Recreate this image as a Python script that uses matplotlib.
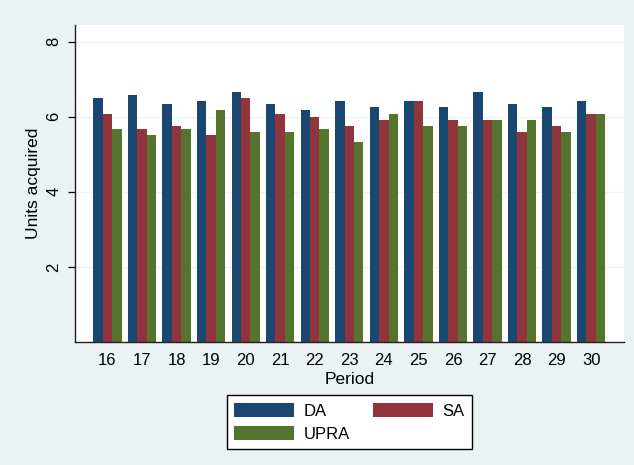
import numpy as np
import matplotlib.pyplot as plt
from matplotlib.patches import Patch

plt.rcParams['font.family'] = ['Liberation Sans', 'DejaVu Sans']

periods = [16, 17, 18, 19, 20, 21, 22, 23, 24, 25, 26, 27, 28, 29, 30]
da = [6.500, 6.583, 6.333, 6.417, 6.667, 6.333, 6.167, 6.417, 6.250, 6.417, 6.250, 6.667, 6.333, 6.250, 6.417]
sa = [6.083, 5.667, 5.750, 5.500, 6.500, 6.083, 6.000, 5.750, 5.917, 6.417, 5.917, 5.917, 5.583, 5.750, 6.083]
upra = [5.667, 5.500, 5.667, 6.167, 5.583, 5.583, 5.667, 5.333, 6.083, 5.750, 5.750, 5.917, 5.917, 5.583, 6.083]
series = [('DA', da, '#1a476f'), ('SA', sa, '#90353b'), ('UPRA', upra, '#55752f')]

bg = '#eaf2f3'
fig = plt.figure(figsize=(6.34, 4.65), dpi=100, facecolor=bg)
ax = fig.add_axes([0.1188, 0.2645, 0.9842 - 0.1188, 0.9469 - 0.2645])
ax.set_facecolor('white')

x = np.arange(len(periods))
w = 0.273
handles = {}
for k, (name, vals, col) in enumerate(series):
    ax.bar(x + (k - 1) * w, vals, width=w, color=col, linewidth=0, zorder=2)
    handles[name] = Patch(facecolor=col, edgecolor='none')

ax.set_xlim(-0.93, len(periods) - 1 + 0.95)
ax.set_ylim(0, 8.45)
ax.set_yticks([2, 4, 6, 8])
ax.set_yticklabels(['2', '4', '6', '8'], rotation=90, va='center')
ax.set_xticks(x)
ax.set_xticklabels([str(p) for p in periods])
ax.grid(axis='y', color='#eef4f5', linewidth=1.0, zorder=0)
ax.tick_params(axis='y', length=5, width=0.9, pad=5, labelsize=12)
ax.tick_params(axis='x', length=0, pad=8, labelsize=12)
for s in ['top', 'right']:
    ax.spines[s].set_visible(False)
for s in ['left', 'bottom']:
    ax.spines[s].set_linewidth(1.0)
    ax.spines[s].set_color('#222222')

ax.set_ylabel('Units acquired', fontsize=12.5, labelpad=4)
ax.set_xlabel('Period', fontsize=12.5, labelpad=3)

leg = fig.legend([handles['DA'], handles['UPRA'], handles['SA']], ['DA', 'UPRA', 'SA'],
                 ncol=2, loc='center', bbox_to_anchor=(0.551, 0.0918),
                 fontsize=12, frameon=True, fancybox=False, framealpha=1,
                 edgecolor='black', facecolor='white',
                 handlelength=3.6, handleheight=0.95, handletextpad=0.55,
                 columnspacing=1.4, labelspacing=0.42, borderpad=0.45,
                 borderaxespad=0)
leg.get_frame().set_linewidth(1.0)

fig.savefig('out.png', dpi=100, facecolor=bg)
